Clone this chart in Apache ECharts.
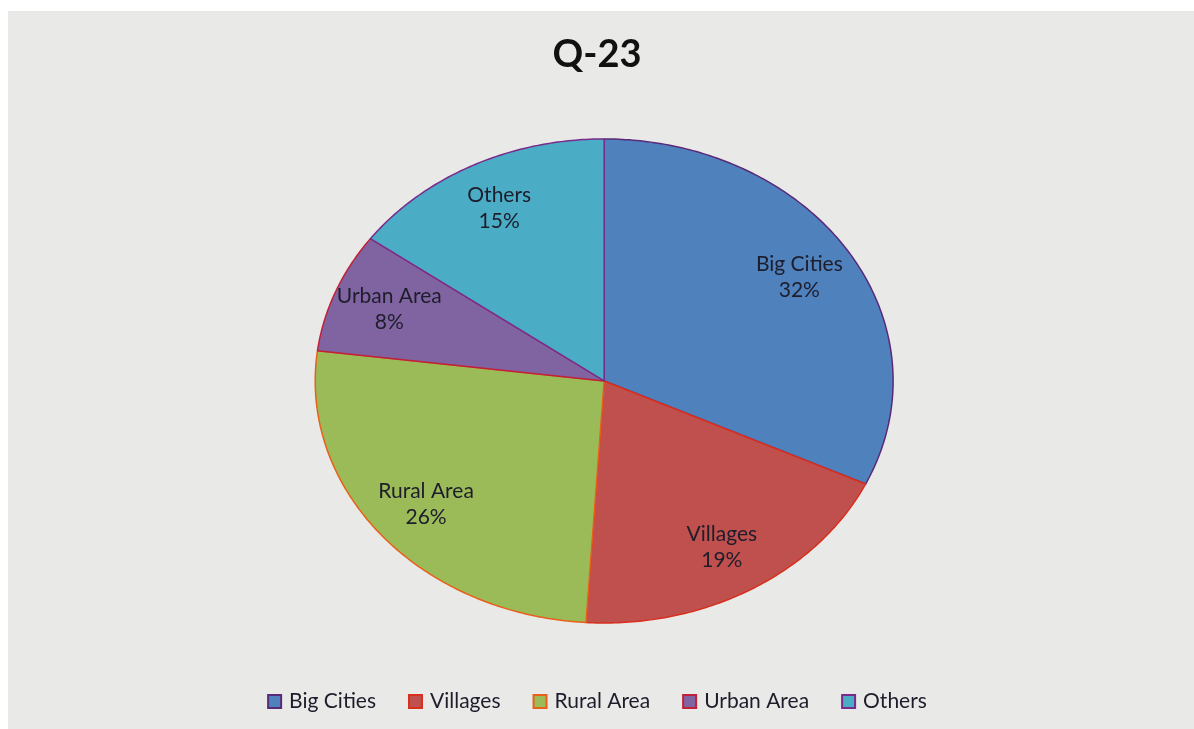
<!DOCTYPE html>
<html>
<head>
<meta charset="utf-8">
<script src="https://cdn.jsdelivr.net/npm/echarts@6/dist/echarts.min.js"></script>
<style>
html,body{margin:0;padding:0;background:#fff;}
#chart{width:1194px;height:729px;}
</style>
</head>
<body>
<div id="chart"></div>
<script>
const categories = ['Big Cities', 'Villages', 'Rural Area', 'Urban Area', 'Others'];
const values = [32, 19, 26, 8, 15];
const title = 'Q-23';

const colors = ['#4f81bd', '#c0504d', '#9bbb59', '#8064a2', '#4bacc6'];
const strokes = ['#5a2a7a', '#d8301e', '#e8601a', '#c0203a', '#7a2a8a'];

const total = values.reduce((a, b) => a + b, 0);
const starts = [];
let acc = 0;
values.forEach(v => { starts.push(acc); acc += v; });

const chart = echarts.init(document.getElementById('chart'));

function makeRender(idx) {
  return function (params, api) {
    const W = api.getWidth(), H = api.getHeight();
    const cx = W * 0.506, cy = H * 0.5226;
    const rx = W * 0.242, ry = H * 0.332;
    const v = api.value(0);
    const t0 = starts[idx] / total * Math.PI * 2;
    const t1 = (starts[idx] + v) / total * Math.PI * 2;
    const pts = [[cx, cy]];
    const n = Math.max(8, Math.ceil((t1 - t0) * 80));
    for (let i = 0; i <= n; i++) {
      const t = t0 + (t1 - t0) * i / n;
      pts.push([cx + rx * Math.sin(t), cy - ry * Math.cos(t)]);
    }
    const tm = (t0 + t1) / 2;
    const k = 0.8;
    const lx = cx + rx * k * Math.sin(tm);
    const ly = cy - ry * k * Math.cos(tm);
    const pct = Math.round(v / total * 100) + '%';
    return {
      type: 'group',
      children: [
        {
          type: 'polygon',
          shape: { points: pts },
          style: { fill: colors[idx], stroke: strokes[idx], lineWidth: 1.5, lineJoin: 'round' }
        },
        {
          type: 'text',
          x: lx, y: ly,
          z2: 10,
          style: {
            text: categories[idx] + '\n' + pct,
            align: 'center', verticalAlign: 'middle',
            fontSize: 21, lineHeight: 26,
            fontFamily: 'Lato, sans-serif',
            fill: '#1d1d2b'
          }
        }
      ]
    };
  };
}

const series = categories.map((name, i) => ({
  type: 'custom',
  name: name,
  coordinateSystem: 'none',
  itemStyle: { color: colors[i], borderColor: strokes[i], borderWidth: 1 },
  renderItem: makeRender(i),
  data: [[values[i]]],
  silent: true
}));

chart.setOption({
  animation: false,
  backgroundColor: '#ffffff',
  graphic: [{
    type: 'rect',
    left: 8, top: 11,
    shape: { width: 1186, height: 718 },
    style: { fill: '#e9e9e8' },
    z: -10
  }],
  title: {
    text: title,
    left: 'center',
    top: 31,
    textStyle: { fontFamily: 'Lato, sans-serif', fontWeight: 'bold', fontSize: 38, color: '#111' }
  },
  legend: {
    bottom: 12,
    left: 'center',
    icon: 'rect',
    itemWidth: 13, itemHeight: 13,
    itemGap: 32,
    textStyle: { fontFamily: 'Lato, sans-serif', fontSize: 21, color: '#1d1d2b', padding: [0, 0, 0, 3] },
    data: categories
  },
  series: series
});
</script>
</body>
</html>
